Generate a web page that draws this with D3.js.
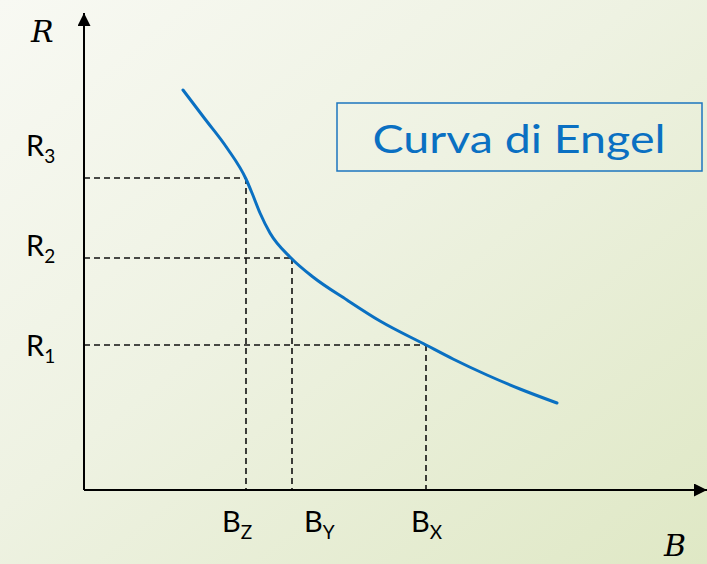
<!DOCTYPE html>
<html lang="it">
<head>
    <meta charset="UTF-8">
    <title>Curva di Engel</title>
    <script src="https://d3js.org/d3.v7.min.js"></script>
    <style>
        html, body {
            margin: 0;
            padding: 0;
            overflow: hidden;
        }
        body {
            font-family: Lato, "Noto Sans", sans-serif;
        }
    </style>
</head>
<body>
<main></main>
<script>
    // curve (x = quantity of B, y = income R)
    var curveX = [99, 121, 143, 162, 168, 176, 186, 207, 229, 263, 296, 342, 369, 403, 436, 473];
    var curveY = [400, 371, 342, 311, 297, 277, 257, 232, 213, 190, 169, 145, 131, 115, 101, 87];

    // income levels and matching quantities
    var incomeNames = ['R1', 'R2', 'R3'];
    var incomeLevels = [145, 232, 312];
    var qtyNames = ['X', 'Y', 'Z'];
    var qtyLevels = [342, 208, 162];

    // where the labels sit (same units as the axes)
    var incomeLabelAt = [145, 245, 345];
    var qtyLabelAt = [327, 220, 138];

    var w = 707, h = 564;

    var x = d3.scaleLinear().domain([0, 623]).range([84, 707]);
    var y = d3.scaleLinear().domain([0, 477]).range([490, 13]);

    var svg = d3.select('main')
        .append('svg')
        .attr('width', w)
        .attr('height', h)
        .style('display', 'block');

    // background
    var defs = svg.append('defs');
    var grad = defs.append('linearGradient')
        .attr('id', 'bg')
        .attr('x1', '0%').attr('y1', '0%')
        .attr('x2', '100%').attr('y2', '100%');
    grad.append('stop').attr('offset', '0%').attr('stop-color', '#f8f9f3');
    grad.append('stop').attr('offset', '45%').attr('stop-color', '#eef2e2');
    grad.append('stop').attr('offset', '100%').attr('stop-color', '#dfe8c5');

    defs.append('marker')
        .attr('id', 'arrow')
        .attr('viewBox', '0 0 12 12')
        .attr('refX', 12).attr('refY', 6)
        .attr('markerWidth', 13).attr('markerHeight', 13)
        .attr('markerUnits', 'userSpaceOnUse')
        .attr('orient', 'auto')
        .append('path')
        .attr('d', 'M0,0 L12,6 L0,12 Z')
        .attr('fill', '#000');

    svg.append('rect')
        .attr('width', w)
        .attr('height', h)
        .attr('fill', 'url(#bg)');

    // dashed guides
    var guides = svg.append('g')
        .attr('stroke', '#111')
        .attr('stroke-width', 1.6)
        .attr('stroke-dasharray', '6,4');

    incomeLevels.forEach(function(r, i) {
        var b = qtyLevels[i];
        guides.append('line')
            .attr('x1', x(0)).attr('x2', x(b))
            .attr('y1', y(r)).attr('y2', y(r));
        guides.append('line')
            .attr('x1', x(b)).attr('x2', x(b))
            .attr('y1', y(r)).attr('y2', y(0));
    });

    // axes
    svg.append('line')
        .attr('x1', x(0)).attr('y1', y(0))
        .attr('x2', x(0)).attr('y2', y(477))
        .attr('stroke', '#000').attr('stroke-width', 2)
        .attr('marker-end', 'url(#arrow)');
    svg.append('line')
        .attr('x1', x(0)).attr('y1', y(0))
        .attr('x2', x(623)).attr('y2', y(0))
        .attr('stroke', '#000').attr('stroke-width', 2)
        .attr('marker-end', 'url(#arrow)');

    // Engel curve
    var pts = curveX.map(function(d, i) { return [d, curveY[i]]; });
    var line = d3.line()
        .x(function(d) { return x(d[0]); })
        .y(function(d) { return y(d[1]); })
        .curve(d3.curveMonotoneX);

    svg.append('path')
        .datum(pts)
        .attr('d', line)
        .attr('fill', 'none')
        .attr('stroke', '#0a70c2')
        .attr('stroke-width', 3)
        .attr('stroke-linecap', 'round');

    // axis names
    svg.append('text')
        .attr('x', 31).attr('y', 42)
        .attr('font-family', '"DejaVu Serif", serif')
        .attr('font-style', 'italic')
        .attr('font-size', 30)
        .attr('fill', '#000')
        .text('R');
    svg.append('text')
        .attr('x', 664).attr('y', 556)
        .attr('font-family', '"DejaVu Serif", serif')
        .attr('font-style', 'italic')
        .attr('font-size', 30)
        .attr('fill', '#000')
        .text('B');

    // R labels
    incomeNames.forEach(function(n, i) {
        var t = svg.append('text')
            .attr('x', 26)
            .attr('y', y(incomeLabelAt[i]) + 11)
            .attr('font-size', 29)
            .attr('fill', '#000');
        t.append('tspan').text(n[0]);
        t.append('tspan')
            .attr('font-size', 19)
            .attr('dy', 7)
            .text(n.slice(1));
    });

    // B labels
    qtyNames.forEach(function(n, i) {
        var t = svg.append('text')
            .attr('x', x(qtyLabelAt[i]))
            .attr('y', 532)
            .attr('font-size', 29)
            .attr('fill', '#000');
        t.append('tspan').text('B');
        t.append('tspan')
            .attr('font-size', 19)
            .attr('dy', 7)
            .text(n);
    });

    // title box
    var box = svg.append('g');
    box.append('rect')
        .attr('x', 337).attr('y', 103)
        .attr('width', 365).attr('height', 68)
        .attr('fill', 'none')
        .attr('stroke', '#1c75bf')
        .attr('stroke-width', 1.5);
    box.append('text')
        .attr('x', 519).attr('y', 153)
        .attr('text-anchor', 'middle')
        .attr('font-size', 39)
        .attr('fill', '#0a70c2')
        .attr('textLength', 293)
        .attr('lengthAdjust', 'spacingAndGlyphs')
        .text('Curva di Engel');
</script>
</body>
</html>
